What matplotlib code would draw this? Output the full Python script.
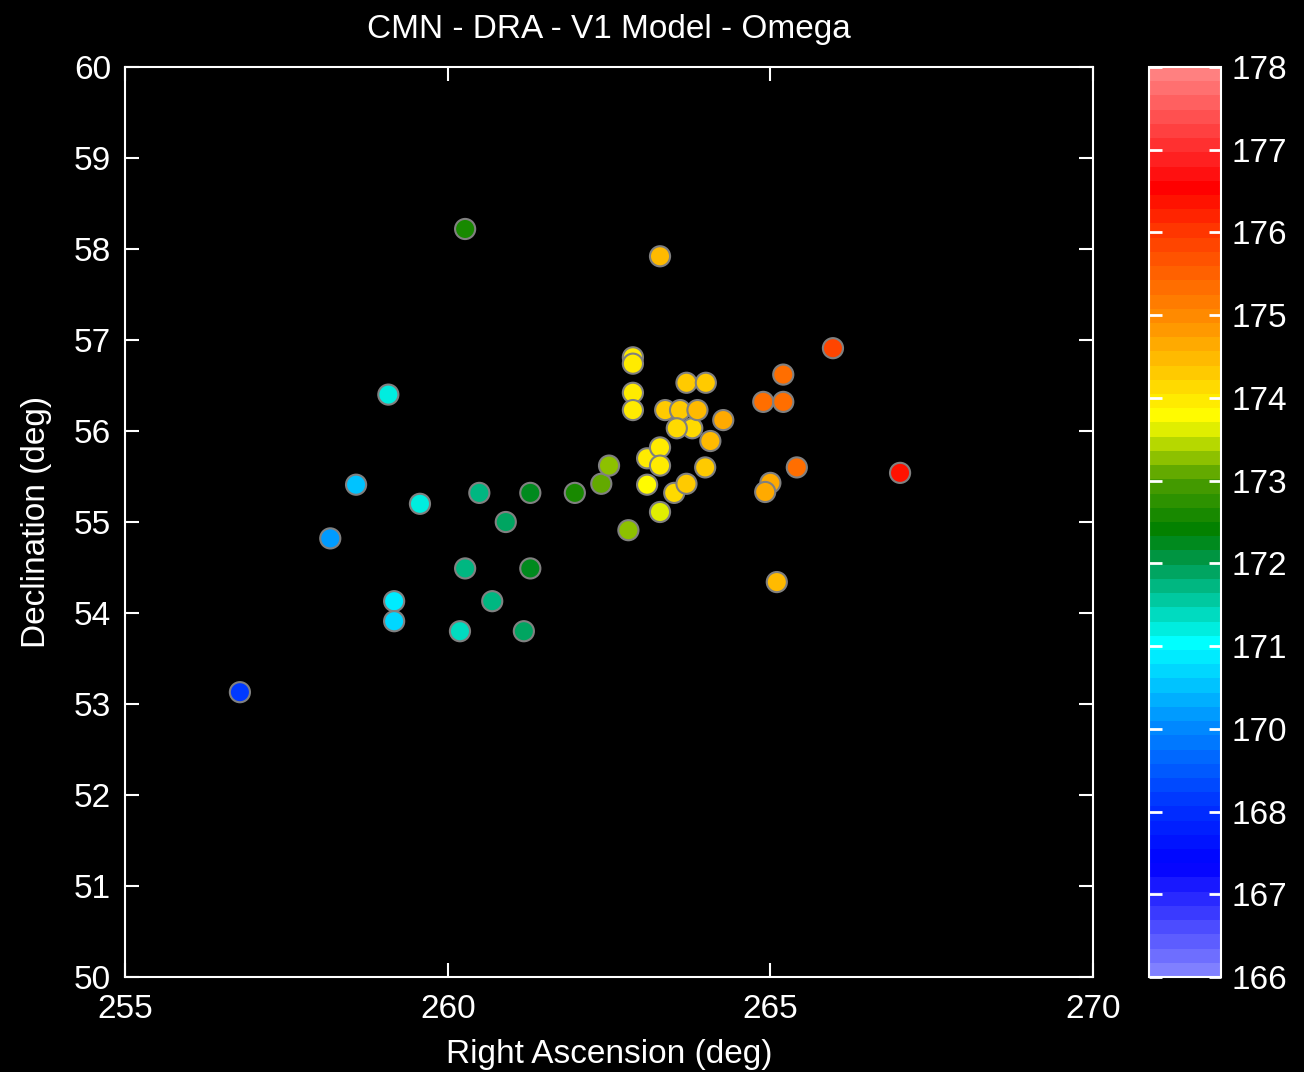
import numpy as np
import matplotlib.pyplot as plt
from matplotlib.colors import LinearSegmentedColormap

# meteor radiants
ra = [260.27, 263.29, 259.08, 258.58, 258.18, 259.57, 259.17, 259.17, 256.78,
      260.27, 260.19, 260.69, 260.49, 260.90, 261.28, 261.28, 261.18, 261.97,
      262.38, 262.50, 262.80, 262.87, 262.87, 262.87, 262.87, 263.09, 263.09,
      263.29, 263.29, 263.29, 263.37, 263.51, 263.70, 263.70, 263.60, 263.79,
      263.55, 263.87, 264.00, 264.07, 264.27, 263.99, 265.97, 265.20, 264.89,
      265.20, 265.41, 265.00, 264.92, 267.01, 265.10]
dec = [58.22, 57.92, 56.40, 55.41, 54.82, 55.20, 54.13, 53.91, 53.13,
       54.49, 53.80, 54.13, 55.32, 55.00, 55.32, 54.49, 53.80, 55.32,
       55.42, 55.62, 54.91, 56.81, 56.74, 56.42, 56.23, 55.70, 55.41,
       55.82, 55.62, 55.11, 56.23, 55.32, 55.42, 56.53, 56.23, 56.03,
       56.03, 56.23, 56.53, 55.89, 56.12, 55.60, 56.91, 56.62, 56.32,
       56.32, 55.60, 55.43, 55.33, 55.54, 54.34]
omega = [172.0, 174.2, 170.5, 169.9, 169.5, 170.6, 170.2, 170.1, 168.3,
         171.1, 170.8, 171.1, 171.2, 171.4, 171.8, 171.8, 171.3, 172.1,
         172.7, 172.9, 172.9, 173.5, 173.5, 173.6, 173.5, 173.5, 173.4,
         173.6, 173.5, 173.3, 173.9, 173.7, 173.9, 174.0, 173.9, 173.8,
         173.8, 174.2, 174.0, 174.1, 174.3, 174.0, 175.7, 175.1, 175.0,
         175.0, 175.0, 174.3, 174.4, 176.2, 174.2]

cbar_labels = ["166", "167", "168", "170", "171", "172", "173",
               "174", "175", "176", "177", "178"]

cmap = LinearSegmentedColormap.from_list("omega", [
    (0.0, (0.5, 0.5, 1.0)),
    (0.117, (0.0, 0.0, 1.0)),
    (0.182, (0.0, 0.19, 1.0)),
    (0.274, (0.0, 0.55, 1.0)),
    (0.365, (0.0, 1.0, 1.0)),
    (0.455, (0.0, 0.6, 0.3)),
    (0.49, (0.0, 0.5, 0.0)),
    (0.547, (0.3, 0.62, 0.0)),
    (0.615, (1.0, 1.0, 0.0)),
    (0.727, (1.0, 0.55, 0.0)),
    (0.819, (1.0, 0.24, 0.0)),
    (0.873, (1.0, 0.0, 0.0)),
    (1.0, (1.0, 0.5, 0.5)),
], N=64)

plt.rcParams['font.family'] = ['Liberation Sans', 'DejaVu Sans']
fs = 24

fig = plt.figure(figsize=(13.04, 10.72), dpi=100, facecolor="black")
ax = fig.add_axes([0.0959, 0.0886, 0.7423, 0.8489], facecolor="black")

sc = ax.scatter(ra, dec, c=omega, cmap=cmap, vmin=166, vmax=178, s=210,
                edgecolors="#808080", linewidths=1.5, zorder=3)

ax.set_xlim(255, 270)
ax.set_ylim(50, 60)
ax.set_xticks([255, 260, 265, 270])
ax.set_yticks(range(50, 61))
ax.tick_params(direction="in", length=10, width=1.5, colors="white",
               labelsize=fs, top=True, right=True)
ax.tick_params(axis="x", pad=12)
ax.tick_params(axis="y", pad=10)
for sp in ax.spines.values():
    sp.set_color("white")
    sp.set_linewidth(1.5)

ax.set_title("CMN - DRA - V1 Model - Omega", color="white", fontsize=fs, pad=21)
ax.set_xlabel("Right Ascension (deg)", color="white", fontsize=fs, labelpad=10)
ax.set_ylabel("Declination (deg)", color="white", fontsize=fs, labelpad=16)

cax = fig.add_axes([0.881, 0.0886, 0.0552, 0.8489])
cb = fig.colorbar(sc, cax=cax)
cb.solids.set_zorder(0)
cax.set_axisbelow(False)
cb.set_ticks(np.linspace(166, 178, 12))
cb.set_ticklabels(cbar_labels)
cb.minorticks_off()
cb.outline.set_edgecolor("white")
cb.outline.set_linewidth(1.5)
cax.yaxis.set_ticks_position("both")
cax.tick_params(direction="in", length=9, width=2, colors="white",
                labelsize=fs, left=True, right=True, labelleft=False,
                labelright=True, pad=8)

fig.savefig("out.png", dpi=100, facecolor="black")
